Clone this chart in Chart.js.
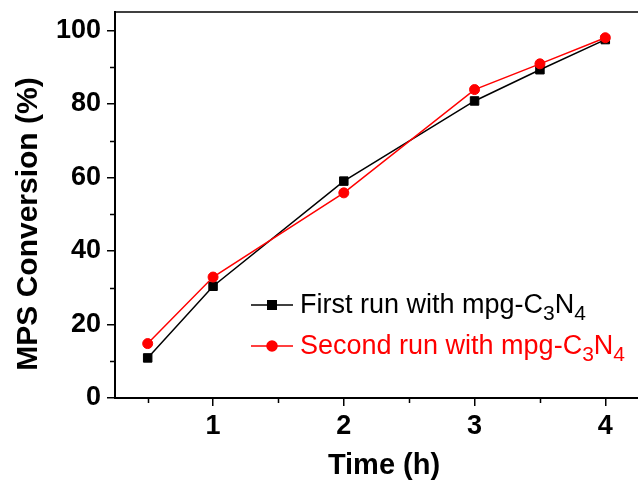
<!DOCTYPE html>
<html>
<head>
<meta charset="utf-8">
<script src="https://cdn.jsdelivr.net/npm/chart.js@4"></script>
<style>
  html, body { margin: 0; background: #fff; }
  #wrap { width: 638px; height: 484px; }
</style>
</head>
<body>
<div id="wrap"><canvas id="chart"></canvas></div>
<script>
// values
const times = [0.5, 1, 2, 3, 3.5, 4];
const firstRun = [10.9, 30.4, 59.0, 80.8, 89.3, 97.5];
const secondRun = [14.8, 32.9, 55.8, 83.9, 90.9, 98.0];
const xTicks = [1, 2, 3, 4];
const xMinorTicks = [0.5, 1.5, 2.5, 3.5];
const yTicks = [0, 20, 40, 60, 80, 100];
const yMinorTicks = [10, 30, 50, 70, 90];
const legendLabels = [
  ["First run with mpg-C", "3", "N", "4"],
  ["Second run with mpg-C", "3", "N", "4"]
];

const FONT = "'Liberation Sans', Arial, sans-serif";

// minor ticks, top spine, axis titles and the legend (with subscripts)
const extras = {
  id: "extras",
  afterDraw(chart) {
    const ctx = chart.ctx;
    const x = chart.scales.x, y = chart.scales.y;
    const area = chart.chartArea;
    ctx.save();
    ctx.strokeStyle = "#000";
    ctx.lineWidth = 1.5;
    ctx.beginPath();
    xMinorTicks.forEach((v) => {
      const px = Math.round(x.getPixelForValue(v)) + 0.5;
      ctx.moveTo(px, area.bottom);
      ctx.lineTo(px, area.bottom + 5);
    });
    yMinorTicks.forEach((v) => {
      const py = Math.round(y.getPixelForValue(v)) + 0.5;
      ctx.moveTo(area.left - 5, py);
      ctx.lineTo(area.left, py);
    });
    ctx.stroke();

    // top spine
    ctx.lineWidth = 1.5;
    ctx.beginPath();
    ctx.moveTo(area.left, area.top);
    ctx.lineTo(area.right, area.top);
    ctx.stroke();

    // axis titles
    ctx.fillStyle = "#000";
    ctx.textAlign = "center";
    ctx.textBaseline = "middle";
    ctx.font = "bold 29px " + FONT;
    ctx.fillText("Time (h)", 384, 466);
    ctx.font = "bold 30px " + FONT;
    ctx.translate(29, 224);
    ctx.rotate(-Math.PI / 2);
    ctx.fillText("MPS Conversion (%)", 0, 0);
    ctx.restore();

    // legend
    ctx.save();
    chart.data.datasets.forEach((ds, i) => {
      const ly = 305 + i * 41;
      ctx.strokeStyle = ds.borderColor;
      ctx.fillStyle = ds.borderColor;
      ctx.lineWidth = 1.5;
      ctx.beginPath();
      ctx.moveTo(251, ly);
      ctx.lineTo(293, ly);
      ctx.stroke();
      Chart.helpers.drawPoint(ctx, {
        pointStyle: ds.pointStyle, radius: ds.pointRadius, borderWidth: 1
      }, 272, ly);
      ctx.fill();
      ctx.textAlign = "left";
      ctx.textBaseline = "alphabetic";
      let tx = 300;
      const base = ly + 8;
      legendLabels[i].forEach((part, j) => {
        const sub = j % 2 === 1;
        ctx.font = (sub ? "21px " : "27px ") + FONT;
        ctx.fillText(part, tx, sub ? base + 7 : base);
        tx += ctx.measureText(part).width;
      });
    });
    ctx.restore();
  }
};

new Chart(document.getElementById("chart"), {
  type: "line",
  data: {
    datasets: [
      {
        label: "First run with mpg-C3N4",
        data: times.map((t, i) => ({ x: t, y: firstRun[i] })),
        borderColor: "#000000",
        backgroundColor: "#000000",
        borderWidth: 1.5,
        pointStyle: "rect",
        pointRadius: 6,
        pointBorderWidth: 1,
        order: 2
      },
      {
        label: "Second run with mpg-C3N4",
        data: times.map((t, i) => ({ x: t, y: secondRun[i] })),
        borderColor: "#ff0000",
        backgroundColor: "#ff0000",
        borderWidth: 1.5,
        pointStyle: "circle",
        pointRadius: 5,
        pointBorderWidth: 1,
        order: 1
      }
    ]
  },
  options: {
    responsive: true,
    maintainAspectRatio: false,
    animation: false,
    layout: { autoPadding: false, padding: { top: 12, right: -3, left: 0, bottom: 0 } },
    plugins: {
      legend: { display: false },
      tooltip: { enabled: false }
    },
    scales: {
      x: {
        type: "linear",
        min: 0.25,
        max: 4.25,
        afterBuildTicks: (scale) => {
          scale.ticks = xTicks.map((v) => ({ value: v }));
        },
        afterFit: (scale) => {
          scale.height = 86;
          scale.paddingLeft = 0;
          scale.paddingRight = 0;
        },
        grid: {
          display: true,
          drawOnChartArea: false,
          drawTicks: true,
          tickLength: 8,
          color: "#000",
          lineWidth: 1.5
        },
        border: { display: true, color: "#000", width: 2 },
        ticks: {
          color: "#000",
          padding: 4,
          maxRotation: 0,
          font: { family: FONT, size: 27, weight: "bold" }
        }
      },
      y: {
        min: 0,
        max: 105,
        afterBuildTicks: (scale) => {
          scale.ticks = yTicks.map((v) => ({ value: v }));
        },
        afterFit: (scale) => {
          scale.width = 115;
          scale.paddingTop = 0;
          scale.paddingBottom = 0;
        },
        grid: {
          display: true,
          drawOnChartArea: false,
          drawTicks: true,
          tickLength: 8,
          color: "#000",
          lineWidth: 1.5
        },
        border: { display: true, color: "#000", width: 2 },
        ticks: {
          color: "#000",
          padding: 6,
          font: { family: FONT, size: 27, weight: "bold" }
        }
      }
    }
  },
  plugins: [extras]
});
</script>
</body>
</html>
